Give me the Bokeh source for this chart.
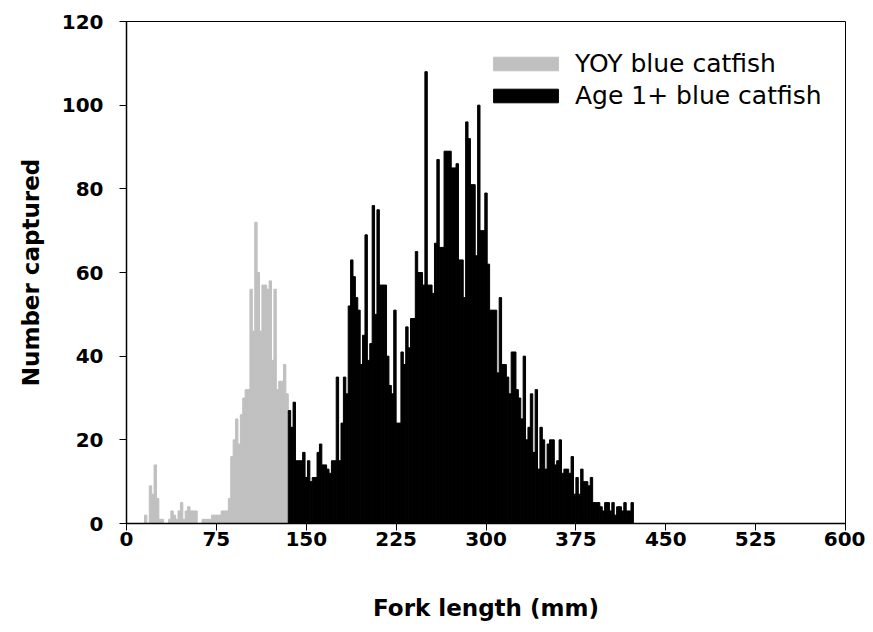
from bokeh.plotting import figure
from bokeh.models import Range1d, FixedTicker, Legend, LegendItem, ColumnDataSource
from bokeh.embed import file_html
from bokeh.resources import INLINE

# ---- data (fork length in mm, 2-mm bins) ----
bin_width = 2
yoy_start = 15
yoy_counts = [2, 0, 9, 7, 14, 6, 1, 1, 0, 0,
              1, 3, 2, 1, 3, 5, 1, 3, 4, 3,
              3, 3, 0, 0, 1, 1, 1, 1, 2, 2,
              2, 2, 3, 3, 3, 6, 16, 20, 25, 19,
              26, 30, 32, 32, 56, 46, 72, 60, 46, 57,
              57, 56, 58, 39, 56, 32, 34, 34, 38, 31]
age_start = 135
age_counts = [27, 23, 29, 15, 15, 15, 17, 11, 15, 10,
              11, 11, 17, 19, 14, 14, 13, 12, 15, 15,
              35, 15, 24, 35, 31, 52, 63, 59, 54, 51,
              38, 45, 69, 39, 43, 76, 50, 75, 57, 57,
              57, 40, 33, 31, 51, 24, 24, 41, 38, 47,
              42, 49, 49, 65, 60, 60, 57, 108, 57, 57,
              55, 67, 87, 66, 66, 89, 89, 89, 85, 85,
              86, 63, 63, 54, 96, 92, 81, 81, 64, 100,
              70, 70, 79, 62, 51, 51, 51, 36, 54, 38,
              38, 35, 31, 41, 41, 32, 30, 25, 40, 20,
              23, 31, 17, 32, 13, 23, 20, 13, 19, 20,
              20, 14, 15, 20, 12, 13, 13, 12, 16, 7,
              11, 7, 13, 10, 10, 9, 11, 5, 5, 5,
              4, 3, 5, 5, 3, 5, 2, 4, 4, 3,
              5, 3, 3, 5]
x_ticks = [0, 75, 150, 225, 300, 375, 450, 525, 600]
y_ticks = [0, 20, 40, 60, 80, 100, 120]
series_labels = ["YOY blue catfish", "Age 1+ blue catfish"]


def bins(start, counts):
    left = [start + i * bin_width for i in range(len(counts))]
    right = [l + bin_width for l in left]
    return ColumnDataSource(dict(left=left, right=right, top=counts,
                                 bottom=[0] * len(counts)))


p = figure(frame_width=719, frame_height=502, output_backend="svg",
           toolbar_location=None, x_range=Range1d(0, 600), y_range=Range1d(0, 120),
           min_border_left=126, min_border_right=20, min_border_top=21,
           min_border_bottom=100)
p.background_fill_color = "white"
p.border_fill_color = "white"
p.outline_line_color = "black"
p.outline_line_width = 1
p.xgrid.visible = False
p.ygrid.visible = False

g_yoy = p.quad(left="left", right="right", top="top", bottom="bottom",
               source=bins(yoy_start, yoy_counts),
               fill_color="#c0c0c0", line_color="#c0c0c0", line_width=1)
g_age = p.quad(left="left", right="right", top="top", bottom="bottom",
               source=bins(age_start, age_counts),
               fill_color="black", line_color="black", line_width=1)

for ax in (p.xaxis[0], p.yaxis[0]):
    ax.axis_line_color = "black"
    ax.axis_line_width = 1.5
    ax.major_tick_line_color = "black"
    ax.major_tick_out = 7
    ax.major_tick_in = 0
    ax.minor_tick_line_color = None
    ax.major_label_text_font = "DejaVu Sans"
    ax.major_label_text_font_style = "bold"
    ax.major_label_text_font_size = "20px"
    ax.major_label_text_color = "black"
    ax.axis_label_text_font = "DejaVu Sans"
    ax.axis_label_text_font_style = "bold"
    ax.axis_label_text_font_size = "23px"
    ax.axis_label_text_color = "black"

p.xaxis.ticker = FixedTicker(ticks=x_ticks)
p.yaxis.ticker = FixedTicker(ticks=y_ticks)
p.xaxis.axis_label = "Fork length (mm)"
p.yaxis.axis_label = "Number captured"
p.xaxis.major_label_standoff = 1
p.xaxis.axis_label_standoff = 46
p.yaxis.major_label_standoff = 16
p.yaxis.axis_label_standoff = 15

legend = Legend(items=[LegendItem(label=series_labels[0], renderers=[g_yoy]),
                       LegendItem(label=series_labels[1], renderers=[g_age])],
                location=(359, 413))
legend.padding = 0
legend.margin = 0
legend.spacing = 3
legend.border_line_alpha = 0
legend.background_fill_alpha = 0
legend.glyph_width = 81
legend.glyph_height = 17
legend.label_standoff = 9
legend.label_text_font = "DejaVu Sans"
legend.label_text_font_size = "25px"
legend.label_text_color = "black"
p.add_layout(legend, "center")

open("out.html", "w").write(file_html(p, INLINE))
